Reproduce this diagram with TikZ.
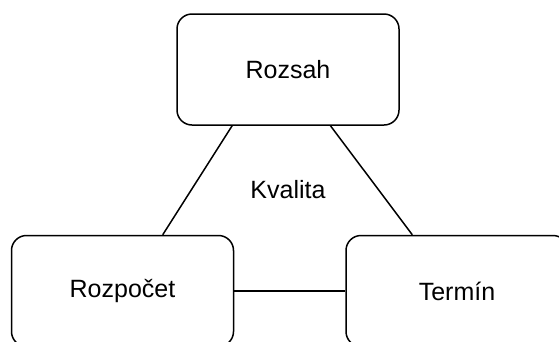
\documentclass[tikz,border=0pt]{standalone}
\usepackage{fontspec}
\setmainfont{Liberation Sans}
\usetikzlibrary{calc}

\begin{document}
\begin{tikzpicture}[x=1pt, y=-1pt,
		box/.style={draw, line width=1.5pt, rounded corners=15pt, minimum width=222pt, minimum height=111pt, font=\fontsize{25}{30}\selectfont},
		lbl/.style={font=\fontsize{25}{30}\selectfont}]
		\useasboundingbox (0,0) rectangle (559,341);
		\clip (0,0) rectangle (559,341);

		\node[box] (rozsah) at (288,69.5) {Rozsah};
		\node[box] (rozpocet) at (122.5,291) {Rozpočet};
		\node[box] (termin) at (457,291) {Termín};
		\node[lbl] (kvalita) at (288,190) {Kvalita};

		\draw[line width=1.5pt] ($(rozsah.south west)!0.25!(rozsah.south east)$) -- ($(rozpocet.north west)!0.68!(rozpocet.north east)$);
		\draw[line width=1.5pt] ($(rozsah.south west)!0.69!(rozsah.south east)$) -- ($(termin.north west)!0.30!(termin.north east)$);
		\draw[line width=1.5pt] (rozpocet.east) -- (termin.west);
	\end{tikzpicture}
\end{document}
